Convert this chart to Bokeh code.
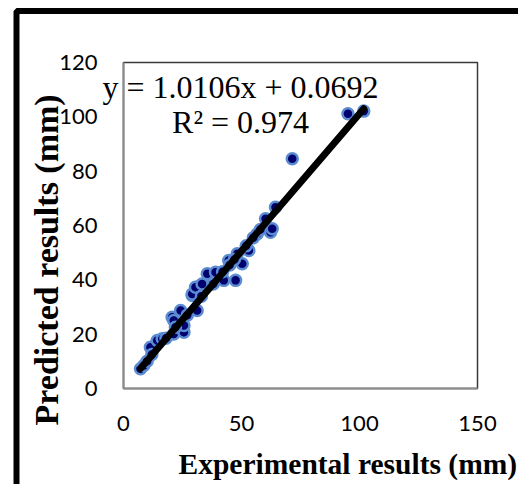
import math
import numpy as np
from bokeh.plotting import figure
from bokeh.models import Range1d, FixedTicker, LinearAxis, Label, BoxAnnotation
from bokeh.embed import file_html
from bokeh.resources import INLINE

# experimental (x) vs predicted (y) values, mm
exp_mm = [7.2, 8.6, 10.0, 11.4, 12.0, 14.3, 16.4, 18.0, 21.3, 25.6, 25.6, 20.6, 24.2, 21.3,
          22.0, 27.0, 31.2, 29.1, 31.2, 34.7, 36.2, 39.0, 29.1, 30.5, 33.3, 35.5, 39.0,
          42.5, 47.5, 44.6, 48.2, 50.3, 53.1, 56.6, 62.3, 60.2, 64.4, 71.5, 95.1, 101.8,
          63.0, 38.0, 42.0, 45.0, 47.0, 52.0, 55.0, 58.0, 33.0]
pred_mm = [7.3, 8.5, 10.0, 15.2, 12.5, 17.7, 18.3, 18.5, 20.1, 20.7, 23.2, 26.2, 28.7, 25.0,
           22.5, 27.0, 28.7, 34.2, 37.3, 37.9, 41.6, 39.8, 34.8, 37.3, 38.5, 42.2, 42.8,
           39.8, 39.8, 47.1, 49.6, 45.9, 50.8, 56.9, 57.5, 62.5, 66.7, 84.6, 101.1, 102.1,
           58.8, 38.5, 43.0, 45.5, 47.5, 52.5, 55.5, 58.5, 34.0]

slope = 1.0106
intercept = 0.0692
r2 = 0.974
x_ticks = [0, 50, 100, 150]
y_ticks = [0, 20, 40, 60, 80, 100, 120]
x_label = "Experimental results  (mm)"
y_label = "Predicted results (mm)"

X_MIN, X_MAX = 0, 150
Y_MIN, Y_MAX = 0, 120

# the frame covers the whole canvas; axes sit at x=0 / y=0 inside it
p = figure(width=518, height=484, output_backend="svg", toolbar_location=None, title=None,
           x_range=Range1d(-52.12, 167.37), y_range=Range1d(-35.34, 142.82),
           x_axis_location=None, y_axis_location=None, min_border=0)
p.xgrid.visible = False
p.ygrid.visible = False
p.outline_line_color = None
p.background_fill_color = "white"
p.border_fill_color = "white"

# thick outer chart border (left and top edges visible)
p.add_layout(BoxAnnotation(left=-45.34, right=400, bottom=-400, top=138.96,
                           fill_color=None, fill_alpha=0, line_color="black", line_alpha=1,
                           line_width=6, level="underlay"))
# plot-area box (top/right edges dark)
p.add_layout(BoxAnnotation(left=X_MIN, right=X_MAX, bottom=Y_MIN, top=Y_MAX,
                           fill_color=None, fill_alpha=0, line_color="#3a3a3a", line_alpha=1,
                           line_width=1.5, level="underlay"))

xaxis = LinearAxis(fixed_location=Y_MIN, bounds=(X_MIN, X_MAX), ticker=FixedTicker(ticks=x_ticks))
yaxis = LinearAxis(fixed_location=X_MIN, bounds=(Y_MIN, Y_MAX), ticker=FixedTicker(ticks=y_ticks))
for ax in (xaxis, yaxis):
    ax.major_tick_out = 0
    ax.major_tick_in = 0
    ax.minor_tick_out = 0
    ax.minor_tick_in = 0
    ax.axis_line_color = "#8c8c8c"
    ax.axis_line_width = 2
    ax.major_label_text_font = "Lato"
    ax.major_label_text_font_size = "22px"
    ax.major_label_text_color = "black"
xaxis.major_label_standoff = 28
yaxis.major_label_standoff = 26
p.add_layout(xaxis, "below")
p.add_layout(yaxis, "left")

p.scatter(exp_mm, pred_mm, size=11, fill_color="#00006e", line_color="#5b8bd0", line_width=2.5)

xs = np.array([min(exp_mm), max(exp_mm)])
p.line(xs, slope * xs + intercept, line_color="black", line_width=7, line_cap="round")

serif = dict(text_font="Liberation Serif", text_color="black", text_baseline="alphabetic")
p.add_layout(Label(x=49.6, y=110.9, text=f"y = {slope}x + {intercept}", text_align="center",
                   text_font_size="32px", **serif))
p.add_layout(Label(x=49.6, y=98.0, text=f"R² = {r2}", text_align="center",
                   text_font_size="32px", **serif))
p.add_layout(Label(x=23.3, y=-27.76, text=x_label, text_align="left",
                   text_font_size="29.5px", text_font_style="bold", **serif))
p.add_layout(Label(x=-32.7, y=-13.6, text=y_label, text_align="left", angle=math.pi / 2,
                   text_font_size="34px", text_font_style="bold", **serif))

open("out.html", "w").write(file_html(p, INLINE))
